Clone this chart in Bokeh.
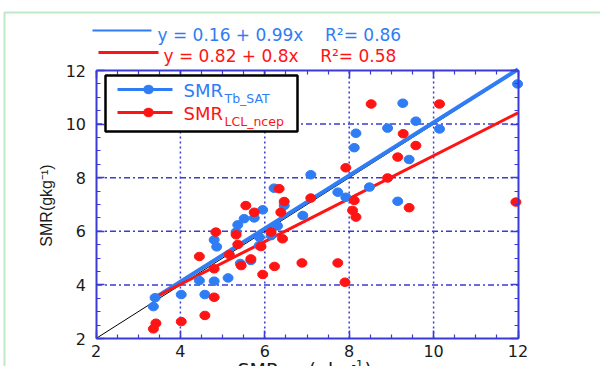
import numpy as np
from bokeh.plotting import figure
from bokeh.models import (Range1d, LinearAxis, SingleIntervalTicker, Label,
                          BoxAnnotation, Arrow)
from bokeh.embed import file_html
from bokeh.resources import INLINE

# ---------------- data ----------------
x_tb = [3.36, 3.40, 4.02, 4.45, 4.58, 4.80, 4.80, 4.86, 5.13, 5.32, 5.36, 5.42,
        5.51, 5.67, 5.75, 5.87, 5.87, 5.95, 6.15, 6.22, 6.30, 6.46, 6.90, 7.09,
        7.73, 7.92, 8.12, 8.16, 8.48, 8.91, 9.15, 9.27, 9.42, 9.58, 10.14, 11.99]
y_tb = [3.19, 3.52, 3.64, 4.16, 3.64, 4.14, 5.68, 5.42, 4.26, 5.97, 6.24, 4.80,
        6.47, 4.91, 6.50, 5.78, 5.47, 6.80, 5.84, 7.61, 6.20, 6.96, 6.59, 8.11,
        7.46, 7.27, 9.12, 9.66, 7.65, 9.85, 7.12, 10.78, 8.68, 10.11, 9.82, 11.50]

x_ncep = [3.36, 3.42, 4.02, 4.45, 4.58, 4.80, 4.80, 4.84, 5.16, 5.32, 5.36, 5.44,
          5.55, 5.67, 5.75, 5.91, 5.95, 6.15, 6.23, 6.34, 6.38, 6.42, 6.46, 6.88,
          7.09, 7.73, 7.90, 7.92, 8.08, 8.12, 8.16, 8.52, 8.91, 9.15, 9.28, 9.42,
          9.58, 10.14, 11.95]
y_ncep = [2.36, 2.57, 2.63, 5.06, 2.86, 3.54, 4.60, 5.97, 5.13, 5.87, 5.51, 4.72,
          6.96, 4.97, 6.71, 5.43, 4.39, 5.97, 4.69, 7.59, 6.71, 5.72, 7.11, 4.82,
          7.24, 4.82, 4.10, 8.37, 6.78, 7.15, 6.53, 10.75, 7.99, 8.77, 9.64, 6.88,
          9.20, 10.75, 7.09]

fit_intercepts = [0.16, 0.82]
fit_slopes = [0.99, 0.80]
fit_r2 = [0.86, 0.58]
fit_x = [3.4, 12.0]
one_to_one = [2, 12]
axis_range = [2, 12]
grid_ticks = [4, 6, 8, 10]

# ---------------- layout (pixels) ----------------
W, H = 600, 366
PX_X = (95.5, 517.5)     # pixel x of axis_range ends
PX_Y = (338.0, 70.0)     # pixel y (from top) of axis_range ends

BLUE = "#2f7df4"
RED = "#ff1414"
AX = "#3a3ad8"
GREEN = "#2ab34a"
FONT = "DejaVu Sans"
NB = "\u00a0"

a0, a1 = axis_range
kx = (PX_X[1] - PX_X[0]) / (a1 - a0)
ky = (PX_Y[0] - PX_Y[1]) / (a1 - a0)
xr = Range1d(a0 - PX_X[0] / kx, a1 + (W - PX_X[1]) / kx)
yr = Range1d(a0 - (H - PX_Y[0]) / ky, a1 + PX_Y[1] / ky)

p = figure(width=W, height=H, x_range=xr, y_range=yr,
           x_axis_type=None, y_axis_type=None,
           output_backend="svg", toolbar_location=None,
           min_border_left=0, min_border_right=0,
           min_border_top=0, min_border_bottom=0)
p.outline_line_color = None
p.background_fill_color = "white"
p.border_fill_color = "white"
p.xgrid.visible = False
p.ygrid.visible = False


def mk_axis(labels, loc, standoff):
    ax = LinearAxis(ticker=SingleIntervalTicker(interval=2, num_minor_ticks=4),
                    fixed_location=loc, bounds=(a0, a1))
    ax.axis_line_color = AX
    ax.axis_line_width = 2
    ax.major_tick_in = 8
    ax.major_tick_out = 0
    ax.minor_tick_in = 4
    ax.minor_tick_out = 0
    ax.major_tick_line_color = AX
    ax.minor_tick_line_color = AX
    ax.major_tick_line_width = 1.5
    ax.minor_tick_line_width = 1.2
    ax.major_label_text_font = FONT
    ax.major_label_text_font_size = "16px"
    ax.major_label_text_color = "#1a1a1a" if labels else None
    ax.major_label_standoff = standoff
    return ax


# grid (inside the axis box only)
gt = np.array(grid_ticks, dtype=float)
p.segment(x0=gt, y0=[a0] * len(gt), x1=gt, y1=[a1] * len(gt),
          line_color=AX, line_width=1.5, line_dash="2 3")
p.segment(x0=[a0] * len(gt), y0=gt, x1=[a1] * len(gt), y1=gt,
          line_color=AX, line_width=1.5, line_dash="6 3 2 3")

# 1:1 line
p.line(one_to_one, one_to_one, line_color="black", line_width=1)

# fit lines
fx = np.array(fit_x)
p.line(fx, fit_intercepts[0] + fit_slopes[0] * fx, line_color=BLUE, line_width=4)
p.line(fx, fit_intercepts[1] + fit_slopes[1] * fx, line_color=RED, line_width=3)

# points
p.ellipse(x_tb, y_tb, width=10, height=8.5, width_units="screen",
          height_units="screen", fill_color=BLUE, line_color=BLUE)
p.ellipse(x_ncep, y_ncep, width=10, height=8.5, width_units="screen",
          height_units="screen", fill_color=RED, line_color=RED)

p.add_layout(mk_axis(True, a0, 6), "below")
p.add_layout(mk_axis(True, a0, 10), "left")
p.add_layout(mk_axis(False, a1, 5), "above")
p.add_layout(mk_axis(False, a1, 5), "right")


def scr_label(x, y, text, size, color, align="left", baseline="middle", angle=0,
              font=FONT):
    # x, y in pixels from the top-left corner of the canvas
    p.add_layout(Label(x=x, y=H - y, x_units="screen", y_units="screen", text=text,
                       text_font=font, text_font_size=size, text_color=color,
                       text_align=align, text_baseline=baseline, angle=angle))


def scr_line(x0, x1, y, color, width):
    p.add_layout(Arrow(start=None, end=None, x_start=x0, y_start=H - y, x_end=x1,
                       y_end=H - y, start_units="screen", end_units="screen",
                       line_color=color, line_width=width))


def scr_box(l, r, t, b, **kw):
    p.add_layout(BoxAnnotation(left=l, right=r, top=H - t, bottom=H - b,
                               left_units="screen", right_units="screen",
                               top_units="screen", bottom_units="screen", **kw))


# equations above the plot
eq_blue = "y = %.2f + %.2fx%sR\u00b2= %.2f" % (fit_intercepts[0], fit_slopes[0], NB * 3 + " ", fit_r2[0])
eq_red = "y = %.2f + %.1fx%sR\u00b2= %.2f" % (fit_intercepts[1], fit_slopes[1], NB * 3 + " ", fit_r2[1])
scr_line(92, 151, 30, BLUE, 2)
scr_label(157, 34.5, eq_blue, "17px", BLUE)
scr_line(98, 158, 52, RED, 3)
scr_label(163, 55.5, eq_red, "17px", RED)

# legend
scr_box(105, 297, 75, 131, fill_color="white", fill_alpha=1,
        line_color="black", line_width=2.5, line_alpha=1)
for yy, col, sub in [(89, BLUE, "Tb_SAT"), (112, RED, "LCL_ncep")]:
    scr_line(117, 172, yy, col, 3)
    scr_box(143, 153, yy - 4.5, yy + 4.5, fill_color=col, fill_alpha=1,
            line_color=col, border_radius=5)
    scr_label(183, yy + 1, "SMR", "18px", col)
    scr_label(224, yy + 9, sub, "12.5px", col)

# axis labels
scr_label(237, 369, "SMR", "19px", "#1a1a1a", baseline="alphabetic")
scr_label(280, 373, "LCL", "14px", "#1a1a1a", baseline="alphabetic")
scr_label(308, 369, "(gkg", "19px", "#1a1a1a", baseline="alphabetic")
scr_label(351, 364, "-1", "12px", "#1a1a1a", baseline="alphabetic")
scr_label(364, 369, ")", "19px", "#1a1a1a", baseline="alphabetic")
scr_label(46, 205, "SMR(gkg\u207b\u00b9)", "16px", "#1a1a1a", align="center",
          angle=np.pi / 2, font="Liberation Sans")

# outer green frame (left and top edges visible)
scr_box(4, 800, 12, 500, fill_alpha=0, line_color=GREEN, line_width=2)

open("out.html", "w").write(file_html(p, INLINE))
